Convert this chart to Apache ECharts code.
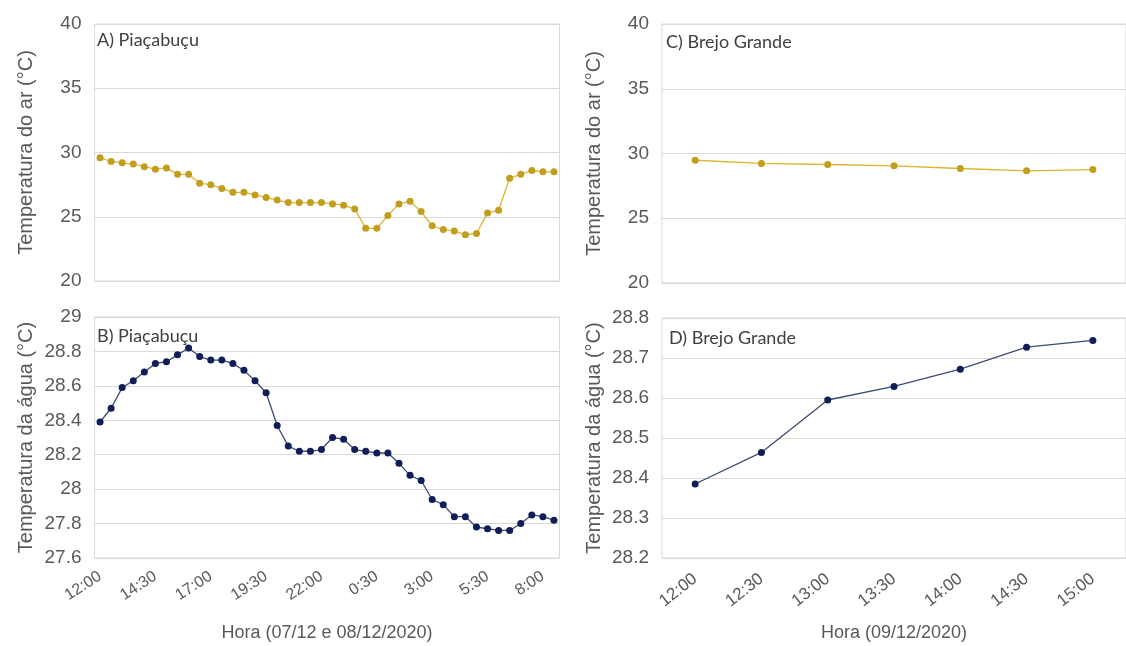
<!DOCTYPE html>
<html>
<head>
<meta charset="utf-8">
<script src="https://cdn.jsdelivr.net/npm/echarts@6/dist/echarts.min.js"></script>
<style>
html,body{margin:0;padding:0;background:#fff;}
#c{width:1126px;height:646px;}
</style>
</head>
<body>
<div id="c"></div>
<script>
// Categories (time of day)
const timesPiacabucu = ['12:00','12:30','13:00','13:30','14:00','14:30','15:00','15:30','16:00','16:30',
  '17:00','17:30','18:00','18:30','19:00','19:30','20:00','20:30','21:00','21:30',
  '22:00','22:30','23:00','23:30','0:00','0:30','1:00','1:30','2:00','2:30',
  '3:00','3:30','4:00','4:30','5:00','5:30','6:00','6:30','7:00','7:30','8:00','8:30'];
const timesBrejo = ['12:00','12:30','13:00','13:30','14:00','14:30','15:00'];

// A) Piaçabuçu – air temperature (°C)
const airPiacabucu = [29.6,29.3,29.2,29.1,28.9,28.7,28.8,28.3,28.3,27.6,
  27.5,27.2,26.9,26.9,26.7,26.5,26.3,26.1,26.1,26.1,
  26.1,26.0,25.9,25.6,24.1,24.1,25.1,26.0,26.2,25.4,
  24.3,24.0,23.9,23.6,23.7,25.3,25.5,28.0,28.3,28.6,28.5,28.5];
// B) Piaçabuçu – water temperature (°C)
const waterPiacabucu = [28.39,28.47,28.59,28.63,28.68,28.73,28.74,28.78,28.82,28.77,
  28.75,28.75,28.73,28.69,28.63,28.56,28.37,28.25,28.22,28.22,
  28.23,28.30,28.29,28.23,28.22,28.21,28.21,28.15,28.08,28.05,
  27.94,27.91,27.84,27.84,27.78,27.77,27.76,27.76,27.80,27.85,27.84,27.82];
// C) Brejo Grande – air temperature (°C)
const airBrejo = [29.48,29.23,29.15,29.05,28.84,28.66,28.76];
// D) Brejo Grande – water temperature (°C)
const waterBrejo = [28.385,28.464,28.595,28.629,28.672,28.727,28.744];

const panelLabels = ['A) Piaçabuçu','B) Piaçabuçu','C) Brejo Grande','D) Brejo Grande'];
const yTitleAir = 'Temperatura do ar (°C)';
const yTitleWater = 'Temperatura da água (°C)';
const xTitleA = 'Hora (07/12 e 08/12/2020)';
const xTitleB = 'Hora (09/12/2020)';

const GOLD_LINE = '#DDB532', GOLD_MARK = '#C29E1E';
const NAVY_LINE = '#3F4C74', NAVY_MARK = '#0F1D58';
const TXT = '#595959', GRID = '#d9d9d9';
const FONT = '"Liberation Sans", Arial, sans-serif';

const chart = echarts.init(document.getElementById('c'));

function yAx(gi, min, max, interval, name){
  return {
    type:'value', gridIndex:gi, min:min, max:max, interval:interval,
    name:name, nameLocation:'middle', nameGap:58,
    nameTextStyle:{color:TXT, fontSize:20, fontFamily:FONT},
    axisLine:{show:false}, axisTick:{show:false},
    axisLabel:{color:TXT, fontSize:19, fontFamily:FONT, margin:13},
    splitLine:{lineStyle:{color:GRID, width:1}}
  };
}
function xAx(gi, data, showLabels, interval, rotate, fs, margin, name){
  return {
    type:'category', gridIndex:gi, data:data, boundaryGap:true,
    axisLine:{show:false}, axisTick:{show:false},
    axisLabel:{show:showLabels, interval:interval, rotate:rotate, color:TXT, fontSize:fs, fontFamily:FONT, margin:margin},
    name:name, nameLocation:'middle', nameGap:66,
    nameTextStyle:{color:TXT, fontSize:18, fontFamily:FONT},
    splitLine:{show:false}
  };
}
function ser(i, data, lc, mc){
  return {
    type:'line', xAxisIndex:i, yAxisIndex:i, data:data,
    symbol:'circle', symbolSize:7, showSymbol:true,
    lineStyle:{color:lc, width:1.3},
    itemStyle:{color:mc},
    animation:false
  };
}
const gridStyle = {show:true, borderColor:GRID, borderWidth:1, backgroundColor:'transparent'};
const LBL_FONT = '18px Lato, "Open Sans", sans-serif';

chart.setOption({
  animation:false,
  backgroundColor:'#ffffff',
  grid:[
    Object.assign({left:94.5, top:24, width:465, height:257}, gridStyle),
    Object.assign({left:94.5, top:317, width:465, height:241}, gridStyle),
    Object.assign({left:662, top:24, width:468, height:259}, gridStyle),
    Object.assign({left:662, top:318, width:468, height:240}, gridStyle)
  ],
  xAxis:[
    xAx(0, timesPiacabucu, false, 4, 0, 16, 16, ''),
    xAx(1, timesPiacabucu, true, 4, 33, 16, 17, xTitleA),
    xAx(2, timesBrejo, false, 0, 0, 17, 18, ''),
    xAx(3, timesBrejo, true, 0, 38, 17, 19, xTitleB)
  ],
  yAxis:[
    yAx(0, 20, 40, 5, yTitleAir),
    yAx(1, 27.6, 29, 0.2, yTitleWater),
    yAx(2, 20, 40, 5, yTitleAir),
    yAx(3, 28.2, 28.8, 0.1, yTitleWater)
  ],
  series:[
    ser(0, airPiacabucu, GOLD_LINE, GOLD_MARK),
    ser(1, waterPiacabucu, NAVY_LINE, NAVY_MARK),
    ser(2, airBrejo, GOLD_LINE, GOLD_MARK),
    ser(3, waterBrejo, NAVY_LINE, NAVY_MARK)
  ],
  graphic:[
    {type:'text', left:97, top:31, style:{text:panelLabels[0], fill:'#404040', font:LBL_FONT}},
    {type:'text', left:97, top:327, style:{text:panelLabels[1], fill:'#404040', font:LBL_FONT}},
    {type:'text', left:666, top:33, style:{text:panelLabels[2], fill:'#404040', font:LBL_FONT}},
    {type:'text', left:669, top:329, style:{text:panelLabels[3], fill:'#404040', font:LBL_FONT}}
  ]
});
</script>
</body>
</html>
